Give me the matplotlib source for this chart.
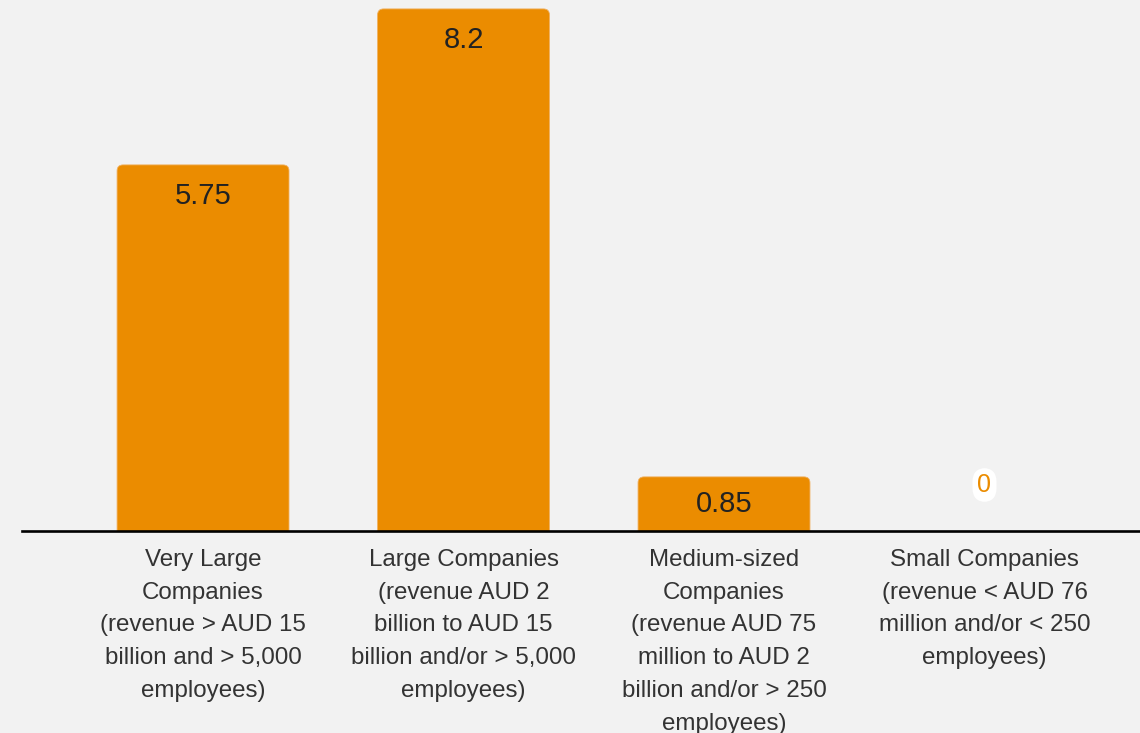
import matplotlib.pyplot as plt
from matplotlib.patches import FancyBboxPatch

# Company size categories and their values
categories = [
    "Very Large\nCompanies\n(revenue > AUD 15\nbillion and > 5,000\nemployees)",
    "Large Companies\n(revenue AUD 2\nbillion to AUD 15\nbillion and/or > 5,000\nemployees)",
    "Medium-sized\nCompanies\n(revenue AUD 75\nmillion to AUD 2\nbillion and/or > 250\nemployees)",
    "Small Companies\n(revenue < AUD 76\nmillion and/or < 250\nemployees)",
]
values = [5.75, 8.2, 0.85, 0]
value_labels = ["5.75", "8.2", "0.85", "0"]

BG = "#f2f2f2"
ORANGE = "#eb8c00"
W, H, DPI = 1140, 733, 100

plt.rcParams['font.family'] = ['Liberation Sans', 'DejaVu Sans']

fig = plt.figure(figsize=(W / DPI, H / DPI), dpi=DPI, facecolor=BG)
ax = fig.add_axes([22 / W, (H - 531) / H, (W - 22) / W, 531 / H])
ax.set_facecolor(BG)

x = list(range(len(categories)))
ax.set_xlim(-0.695, 3.597)
ax.set_ylim(0, 8.34)

# rounded top corners: draw the bars as fancy boxes, bottoms pushed below the axis
bars = ax.bar(x, values, width=0.66, color=ORANGE)
fig.canvas.draw()
px_x = (ax.get_xlim()[1] - ax.get_xlim()[0]) / ax.bbox.width
px_y = (ax.get_ylim()[1] - ax.get_ylim()[0]) / ax.bbox.height
r = 6 * px_x
for b in bars:
    if b.get_height() <= 0:
        b.remove()
        continue
    bx, bw, bh = b.get_x(), b.get_width(), b.get_height()
    drop = 10 * px_y
    patch = FancyBboxPatch((bx, -drop), bw, bh + drop,
                           boxstyle=f"round,pad=0,rounding_size={r}",
                           mutation_aspect=px_y / px_x,
                           fc=ORANGE, ec="#f0b060", lw=0.6, clip_on=True)
    ax.add_patch(patch)
    b.remove()

pt = 72 / DPI
for xi, v, lab in zip(x, values, value_labels):
    if v > 0:
        # label sits near the top, or in the middle of a short bar
        h_px = v / px_y
        off = min(31, h_px / 2)
        ax.annotate(lab, (xi, v), xytext=(0, -off * pt), textcoords="offset points",
                    ha="center", va="center", fontsize=21, color="#222222")
    else:
        ax.annotate(lab, (xi, v), xytext=(0, 46 * pt), textcoords="offset points",
                    ha="center", va="center", fontsize=18, color=ORANGE,
                    bbox=dict(boxstyle="round,pad=0.2,rounding_size=0.55",
                              fc="white", ec="none"))

for s in ["top", "right", "left"]:
    ax.spines[s].set_visible(False)
ax.spines["bottom"].set_color("black")
ax.spines["bottom"].set_linewidth(1.9)
ax.set_yticks([])
ax.set_xticks(x)
ax.set_xticklabels(categories, fontsize=17.4, color="#333333", linespacing=1.63)
ax.tick_params(axis="x", length=0, pad=13)

fig.savefig("out.png", dpi=DPI, facecolor=BG)
